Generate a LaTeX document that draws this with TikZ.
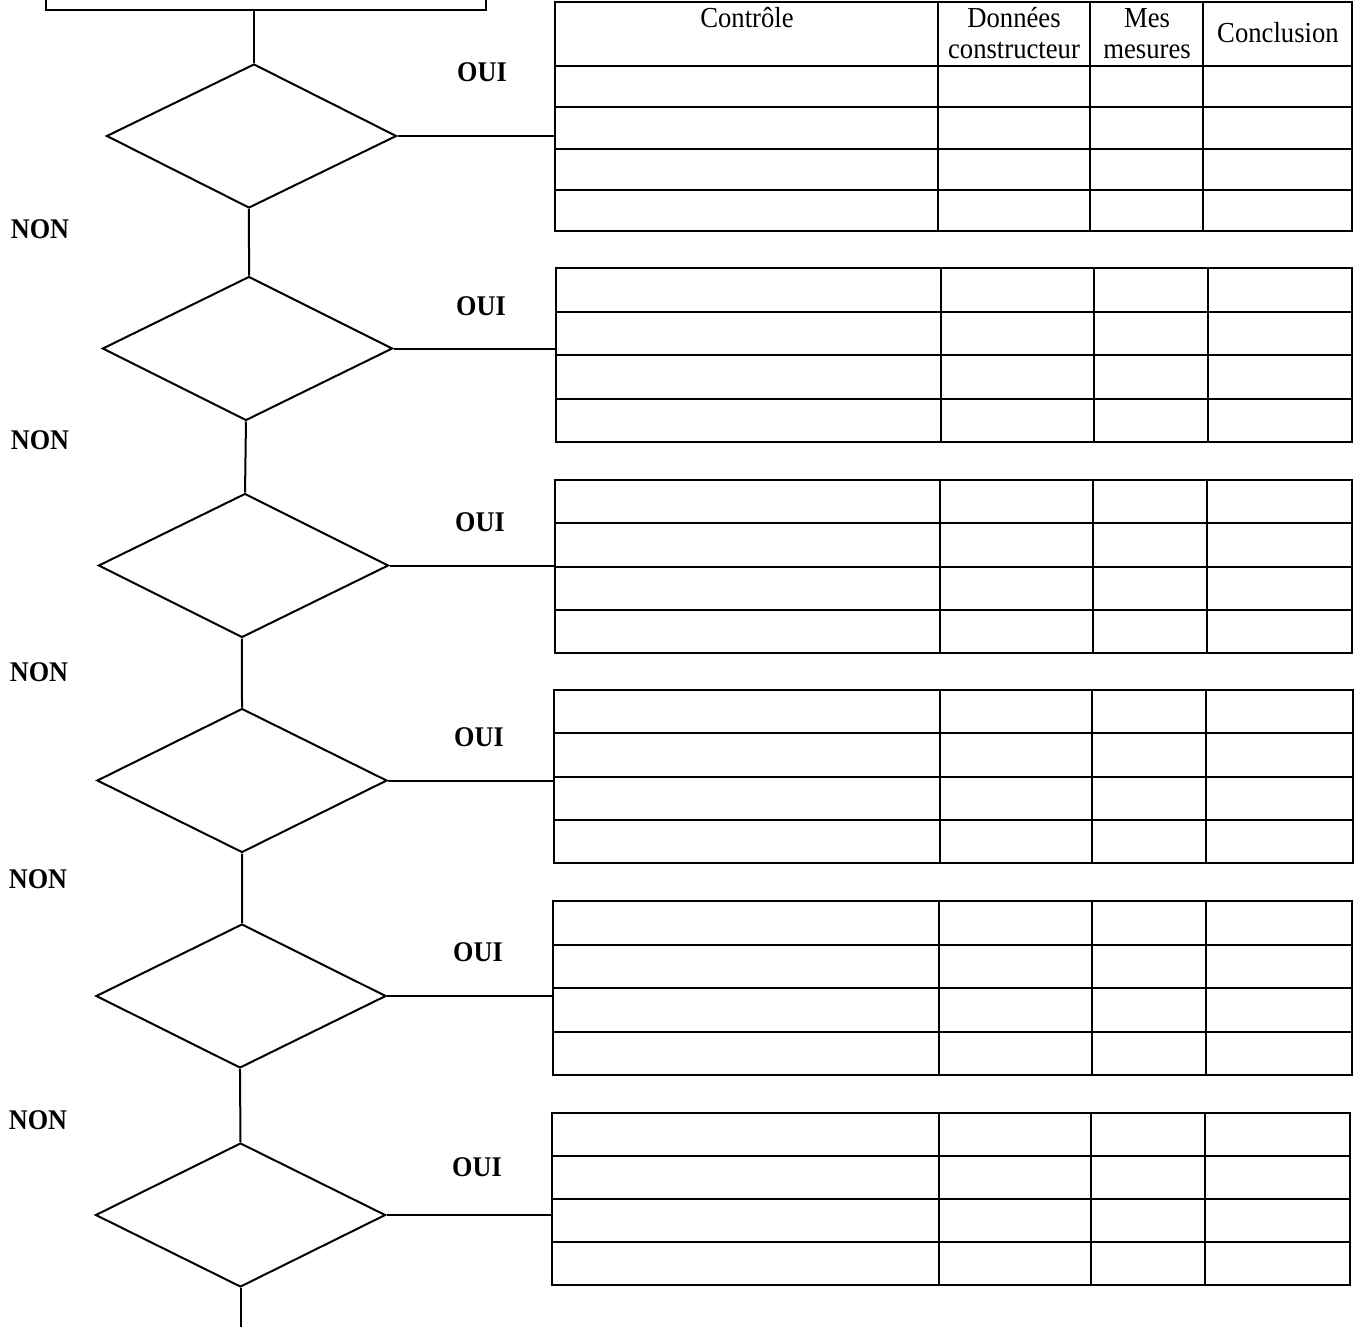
\documentclass[tikz,border=0pt]{standalone}
\usepackage{fontspec}
\setmainfont{Liberation Serif}
\newfontfamily\hdrfont[FakeStretch=0.92]{Liberation Serif}
\usetikzlibrary{shapes.geometric}
\tikzset{
  dec/.style={draw, shape=diamond, minimum width=290pt, minimum height=144pt, inner sep=0pt},
  tbl/.style={draw, rectangle, inner sep=0pt},
  lab/.style={font=\hdrfont\fontsize{28.5}{33}\selectfont\bfseries, anchor=base, inner sep=0pt},
  hdr/.style={font=\hdrfont\fontsize{29}{34}\selectfont, anchor=base, inner sep=0pt},
}
\newcommand\mytbl[8]{%
  \pgfmathsetmacro\tcx{(#2+#3)/2}%
  \pgfmathsetmacro\tcy{(#4+#5)/2}%
  \pgfmathsetmacro\tw{#3-#2}%
  \pgfmathsetmacro\th{#5-#4}%
  \node[tbl, minimum width=\tw pt, minimum height=\th pt] (#1) at (\tcx,\tcy) {};
  \foreach \k in {1,2,3} {\draw (#2,{#4+\k*(#5-#4)/4}) -- (#3,{#4+\k*(#5-#4)/4});}
  \foreach \c in {#6,#7,#8} {\draw (\c,#4) -- (\c,#5);}
}
\begin{document}
\begin{tikzpicture}[x=1pt, y=-1pt, line width=2pt]
\useasboundingbox (0,0) rectangle (1362,1327);
% top box
\node[tbl, minimum width=440pt, minimum height=40pt] (box) at (266,-10) {};
% diamonds (slightly slanted, as in the scan)
\node[dec, xslant=0.035] (d1) at (251.5,136) {};
\node[dec, xslant=0.021] (d2) at (247.5,348.5) {};
\node[dec, xslant=0.021] (d3) at (243.5,565.5) {};
\node[dec] (d4) at (242,780.5) {};
\node[dec, xslant=0.014] (d5) at (241,996) {};
\node[dec] (d6) at (240.5,1215) {};
\coordinate (endpt) at (240.5,1330);
% vertical connectors
\draw (d1.north |- box.south) -- (d1.north);
\draw (d1.south) -- (d2.north);
\draw (d2.south) -- (d3.north);
\draw (d3.south) -- (d4.north);
\draw (d4.south) -- (d5.north);
\draw (d5.south) -- (d6.north);
\draw (d6.south) -- (endpt);
% tables
\node[tbl, minimum width=797pt, minimum height=64pt] (h1) at (953.5,34) {};
\foreach \c in {938,1090,1203} {\draw (\c,2) -- (\c,66);}
\mytbl{t1}{555}{1352}{66}{231}{938}{1090}{1203}
\mytbl{t2}{556}{1352}{268}{442}{941}{1094}{1208}
\mytbl{t3}{555}{1352}{480}{653}{940}{1093}{1207}
\mytbl{t4}{554}{1353}{690}{863}{940}{1092}{1206}
\mytbl{t5}{553}{1352}{901}{1075}{939}{1092}{1206}
\mytbl{t6}{552}{1350}{1113}{1285}{939}{1091}{1205}
% header texts
\node[hdr] (hc) at (747,28) {Contrôle};
\node[hdr] (hd1) at (1014,28) {Données};
\node[hdr] (hd2) at (1014,59) {constructeur};
\node[hdr] (hm1) at (1147,28) {Mes};
\node[hdr] (hm2) at (1147,59) {mesures};
\node[hdr] (hcl) at (1278,43) {Conclusion};
% OUI connectors
\draw (d1.east) -- (d1.east -| t1.west);
\draw (d2.east) -- (d2.east -| t2.west);
\draw (d3.east) -- (d3.east -| t3.west);
\draw (d4.east) -- (d4.east -| t4.west);
\draw (d5.east) -- (d5.east -| t5.west);
\draw (d6.east) -- (d6.east -| t6.west);
% labels
\node[lab] (o1) at (482,82) {OUI};
\node[lab] (o2) at (481,315) {OUI};
\node[lab] (o3) at (480,531) {OUI};
\node[lab] (o4) at (479,746) {OUI};
\node[lab] (o5) at (478,961) {OUI};
\node[lab] (o6) at (477,1176) {OUI};
\node[lab] (n1) at (40,238) {NON};
\node[lab] (n2) at (40,449) {NON};
\node[lab] (n3) at (39,681) {NON};
\node[lab] (n4) at (38,888) {NON};
\node[lab] (n5) at (38,1129) {NON};
\end{tikzpicture}
\end{document}
